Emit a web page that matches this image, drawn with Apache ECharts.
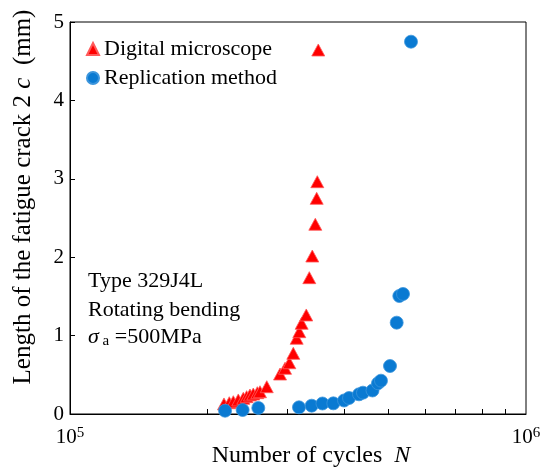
<!DOCTYPE html>
<html>
<head>
<meta charset="utf-8">
<script src="https://cdn.jsdelivr.net/npm/echarts@6/dist/echarts.min.js"></script>
<style>
html,body{margin:0;padding:0;background:#fff;}
#chart{width:543px;height:468px;}
</style>
</head>
<body>
<div id="chart"></div>
<script>
// Digital microscope (red triangles): cycles N, crack length 2c (mm)
const microN = [217600, 223500, 228100, 233900, 239900, 244000, 248100, 252300, 257500, 261000,
  270100, 288800, 296200, 302700, 308800, 314100, 318300, 322100, 329700, 334800,
  339900, 345100, 347500, 348600, 350300];
const microC = [0.128, 0.144, 0.157, 0.179, 0.200, 0.221, 0.242, 0.255, 0.272, 0.284,
  0.348, 0.510, 0.583, 0.654, 0.774, 0.966, 1.050, 1.157, 1.263, 1.739,
  2.015, 2.420, 2.751, 2.963, 4.643];
// Replication method (blue circles)
const replicaN = [218800, 239100, 258800, 317800, 338800, 357800, 378000, 399000, 409200, 430300,
  439000, 460700, 473600, 480800, 503200, 520500, 527500, 537400, 559500];
const replicaC = [0.042, 0.051, 0.077, 0.085, 0.106, 0.134, 0.136, 0.172, 0.204, 0.251,
  0.272, 0.300, 0.392, 0.425, 0.612, 1.165, 1.505, 1.531, 4.749];

const seriesNames = ['Digital microscope', 'Replication method'];
const xMajorTicks = [1e5, 1e6];
const xMinorTicks = [2e5, 3e5, 4e5, 5e5, 6e5, 7e5, 8e5, 9e5];
const yTicks = [0, 1, 2, 3, 4, 5];
const noteLines = ['Type 329J4L', 'Rotating bending'];

const FONT = '"Liberation Serif", "Times New Roman", serif';

const microData = microN.map((n, i) => [n, microC[i]]);
const replicaData = replicaN.map((n, i) => [n, replicaC[i]]);

const chart = echarts.init(document.getElementById('chart'), null, {renderer: 'canvas'});
chart.setOption({
  backgroundColor: '#fff',
  animation: false,
  textStyle: {fontFamily: FONT, color: '#000'},
  grid: {left: 70, right: 17, top: 22, bottom: 54, containLabel: false, outerBoundsMode: 'none',
    show: true, borderColor: '#000', borderWidth: 1, backgroundColor: 'transparent'},
  legend: {
    data: seriesNames, orient: 'vertical', left: 81, top: 33,
    itemWidth: 12, itemHeight: 12, itemGap: 7,
    textStyle: {fontFamily: FONT, fontSize: 22, color: '#000'}
  },
  xAxis: [{
    type: 'log', logBase: 10, min: xMajorTicks[0], max: xMajorTicks[1],
    name: '{n|Number of cycles  }{i|N}', nameLocation: 'middle', nameGap: 30, nameMoveOverlap: false,
    nameTextStyle: {fontFamily: FONT, fontSize: 24, color: '#000', padding: [0, 0, 0, 26],
      rich: {n: {fontFamily: FONT, fontSize: 24, color: '#000'},
             i: {fontFamily: FONT, fontSize: 24, fontStyle: 'italic', color: '#000'}}},
    axisLine: {show: true, lineStyle: {color: '#000', width: 1}},
    axisTick: {show: false},
    splitLine: {show: false},
    axisLabel: {
      show: true, showMinLabel: true, showMaxLabel: true, margin: 12,
      formatter: v => '{b|10}{s|' + Math.round(Math.log10(v)) + '}',
      rich: {b: {fontFamily: FONT, fontSize: 21, color: '#000', lineHeight: 22},
             s: {fontFamily: FONT, fontSize: 15, color: '#000', lineHeight: 6, verticalAlign: 'top'}}
    }
  }, {
    type: 'value', min: 5, max: 6, position: 'bottom', gridIndex: 0,
    axisLine: {show: false}, axisLabel: {show: false}, splitLine: {show: false},
    axisTick: {show: true, inside: true, length: 5, lineStyle: {color: '#000', width: 1},
      customValues: xMinorTicks.map(v => Math.log10(v))}
  }],
  yAxis: {
    type: 'value', min: yTicks[0], max: yTicks[yTicks.length - 1], interval: 1,
    name: '{n|Length of the fatigue crack 2 }{i|c}{n|  (mm)}', nameLocation: 'middle', nameGap: 34,
    nameTextStyle: {fontFamily: FONT, fontSize: 25, color: '#000', padding: [0, 0, 0, 42],
      rich: {n: {fontFamily: FONT, fontSize: 25, color: '#000'},
             i: {fontFamily: FONT, fontSize: 25, fontStyle: 'italic', color: '#000'}}},
    axisLine: {show: true, lineStyle: {color: '#000', width: 1}},
    axisTick: {show: true, inside: true, length: 5, lineStyle: {color: '#000'}},
    splitLine: {show: false},
    axisLabel: {fontFamily: FONT, fontSize: 21, color: '#000', margin: 6}
  },
  graphic: [
    {type: 'text', left: 88, top: 270, style: {text: noteLines[0], font: '22px ' + FONT, fill: '#000'}},
    {type: 'text', left: 88, top: 299, style: {text: noteLines[1], font: '22px ' + FONT, fill: '#000'}},
    {type: 'text', left: 88, top: 326, style: {
      text: '{s|σ}{sub| a}{n| =500MPa}',
      rich: {s: {fontFamily: FONT, fontSize: 22, fontStyle: 'italic', fill: '#000', lineHeight: 24},
             sub: {fontFamily: FONT, fontSize: 15, fill: '#000', lineHeight: 8, verticalAlign: 'bottom'},
             n: {fontFamily: FONT, fontSize: 22, fill: '#000', lineHeight: 24}}
    }}
  ],
  series: [{
    name: seriesNames[0], type: 'scatter', xAxisIndex: 0, symbol: 'triangle', symbolSize: [13, 12],
    itemStyle: {color: '#ff0000', borderColor: '#ff5a5a', borderWidth: 0.8, opacity: 1},
    data: microData
  }, {
    name: seriesNames[1], type: 'scatter', xAxisIndex: 0, symbol: 'circle', symbolSize: 13,
    itemStyle: {color: '#0a7ad2', borderColor: '#3c95dc', borderWidth: 0.8, opacity: 1},
    data: replicaData
  }]
});
</script>
</body>
</html>
